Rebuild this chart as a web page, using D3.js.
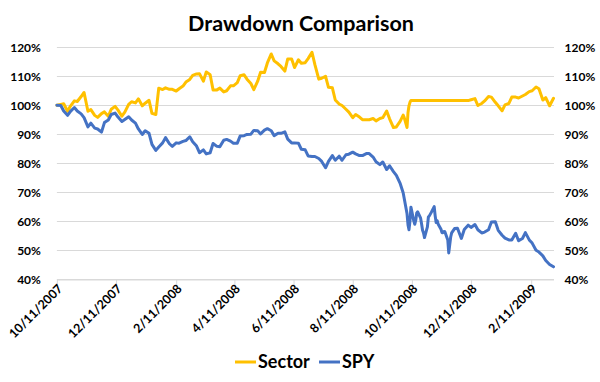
<!DOCTYPE html>
<html><head><meta charset="utf-8">
<script src="https://cdn.jsdelivr.net/npm/d3@7"></script>
<style>body{margin:0;background:#fff}svg text{font-family:Lato,"Open Sans",sans-serif;font-weight:bold;fill:#000}</style>
</head><body><svg id="c" width="600" height="382"></svg>
<script>
const dates = ["2007-10-11","2007-10-15","2007-10-18","2007-10-22","2007-10-25","2007-10-29","2007-11-01","2007-11-05","2007-11-08","2007-11-12","2007-11-15","2007-11-19","2007-11-22","2007-11-26","2007-11-29","2007-12-03","2007-12-06","2007-12-10","2007-12-13","2007-12-17","2007-12-20","2007-12-24","2007-12-27","2007-12-31","2008-01-03","2008-01-07","2008-01-10","2008-01-14","2008-01-17","2008-01-21","2008-01-24","2008-01-28","2008-01-31","2008-02-04","2008-02-07","2008-02-11","2008-02-14","2008-02-18","2008-02-21","2008-02-25","2008-02-28","2008-03-03","2008-03-06","2008-03-10","2008-03-13","2008-03-17","2008-03-20","2008-03-24","2008-03-27","2008-03-31","2008-04-03","2008-04-07","2008-04-10","2008-04-14","2008-04-17","2008-04-21","2008-04-24","2008-04-28","2008-05-01","2008-05-05","2008-05-08","2008-05-12","2008-05-15","2008-05-19","2008-05-22","2008-05-26","2008-05-29","2008-06-02","2008-06-05","2008-06-09","2008-06-12","2008-06-16","2008-06-19","2008-06-23","2008-06-26","2008-06-30","2008-07-03","2008-07-07","2008-07-10","2008-07-14","2008-07-17","2008-07-21","2008-07-24","2008-07-28","2008-07-31","2008-08-04","2008-08-07","2008-08-11","2008-08-14","2008-08-18","2008-08-21","2008-08-25","2008-08-28","2008-09-01","2008-09-04","2008-09-08","2008-09-11","2008-09-15","2008-09-18","2008-09-22","2008-09-25","2008-09-29","2008-10-02","2008-10-03","2008-10-06","2008-10-07","2008-10-08","2008-10-09","2008-10-10","2008-10-13","2008-10-14","2008-10-15","2008-10-16","2008-10-17","2008-10-20","2008-10-21","2008-10-22","2008-10-23","2008-10-24","2008-10-27","2008-10-28","2008-10-29","2008-10-30","2008-10-31","2008-11-03","2008-11-04","2008-11-05","2008-11-06","2008-11-07","2008-11-10","2008-11-11","2008-11-12","2008-11-13","2008-11-14","2008-11-17","2008-11-18","2008-11-19","2008-11-20","2008-11-21","2008-11-24","2008-11-27","2008-12-01","2008-12-04","2008-12-08","2008-12-11","2008-12-15","2008-12-18","2008-12-22","2008-12-25","2008-12-29","2009-01-01","2009-01-05","2009-01-08","2009-01-12","2009-01-15","2009-01-19","2009-01-22","2009-01-26","2009-01-29","2009-02-02","2009-02-05","2009-02-09","2009-02-12","2009-02-16","2009-02-19","2009-02-23","2009-02-26","2009-03-02","2009-03-06"];

const sector = [100,100.3,100.5,97.9,99.7,101.5,101.3,103.0,104.4,97.9,98.5,96.5,95.8,97.1,97.7,96.2,98.6,99.6,98.3,96.2,97.6,100.3,101.2,100.8,102.2,99.8,100.7,101.7,97.2,96.8,105.9,105.4,106.0,105.5,105.5,104.9,105.7,106.6,108.0,108.9,110.3,110.8,110.9,108.3,111.5,110.5,105.3,105.3,105.9,104.6,105.0,106.7,106.7,107.8,110.2,110.5,109.0,107.5,105.4,108.3,111.4,111.3,114.6,117.7,115.3,114.3,113.4,111.8,116.0,116.0,113.0,115.7,114.5,114.7,116.1,118.3,114.0,109.0,109.3,110.0,106.2,106.0,101.8,100.4,99.9,98.6,97.6,95.7,96.8,95.9,95.0,95.0,95.0,95.4,94.6,95.4,95.7,98.0,95.3,92.3,92.5,94.5,96.6,95.8,92.3,97.5,99.8,101.0,101.6,null,null,null,null,null,null,null,null,null,null,null,null,null,null,null,null,null,null,null,null,null,null,null,null,null,null,null,null,null,null,null,null,null,null,101.6,101.9,102.3,99.9,100.6,101.5,103.0,102.8,101.0,99.8,98.1,100.1,100.6,102.8,102.8,102.5,103.2,103.7,104.7,105.0,106.3,105.7,101.8,102.6,99.8,102.4];

const spy = [100,99.9,98.0,96.5,97.9,99.2,98.0,97.0,95.7,92.5,93.8,92.1,91.8,90.7,94.0,94.9,96.8,97.3,95.9,94.4,95.1,96.0,94.9,93.8,91.8,89.9,91.2,90.3,86.5,84.4,85.6,87.0,88.8,86.7,85.8,87.0,86.9,87.5,87.8,89.1,87.4,85.9,83.6,84.6,83.2,83.6,86.8,85.8,85.7,87.9,88.2,87.6,86.9,86.9,89.4,89.5,89.9,90.0,91.3,91.2,90.1,91.4,91.9,91.2,89.5,90.3,90.3,90.8,88.3,87.0,87.0,86.9,84.8,84.6,82.5,82.3,82.3,81.6,80.6,78.4,80.6,82.6,81.0,82.4,81.0,82.9,83.1,83.8,83.2,82.6,82.6,83.3,83.3,82.1,80.5,79.5,80.4,77.8,79.1,77.1,75.8,72.9,69.8,68.0,62.5,58.7,57.0,59.9,64.8,60.0,58.9,60.3,62.8,63.2,61.0,59.0,56.8,55.9,54.3,58.0,61.4,61.8,62.4,63.0,65.0,61.8,59.5,60.2,59.0,57.2,56.0,56.0,56.4,56.3,53.5,49.0,51.8,54.5,55.9,57.4,57.5,54.0,57.1,58.6,57.8,58.8,57.0,55.9,56.2,57.0,59.7,59.8,56.8,55.1,54.1,53.5,53.5,55.8,53.2,54.0,56.0,53.5,52.4,49.9,49.3,48.0,46.4,45.0,44.2];

const yTicks = [40,50,60,70,80,90,100,110,120];
const xTickLabels = ["10/11/2007","12/11/2007","2/11/2008","4/11/2008","6/11/2008","8/11/2008","10/11/2008","12/11/2008","2/11/2009"];
const domainEnd = "2009-03-06";
const seriesNames = ["Sector","SPY"];
const seriesColors = ["#FFC000","#4472C4"];
const titleText = "Drawdown Comparison";

const svg = d3.select("#c");
const parseISO = d3.timeParse("%Y-%m-%d");
const parseTick = d3.timeParse("%m/%d/%Y");
const fmtTick = d3.timeFormat("%-m/%-d/%Y");

const pLeft = 56.9, pRight = 553.5, pTop = 47.3, pBottom = 279;
const x = d3.scaleTime().domain([parseISO(dates[0]), parseISO(domainEnd)]).range([pLeft, pRight]);
const y = d3.scaleLinear().domain([40,120]).range([pBottom, pTop]);

// gridlines
svg.append("g").selectAll("line").data(yTicks).join("line")
  .attr("x1", pLeft).attr("x2", pRight + 0.5)
  .attr("y1", d => Math.round(y(d)) + 0.5).attr("y2", d => Math.round(y(d)) + 0.5)
  .attr("stroke", "#D9D9D9").attr("stroke-width", 1);

// left axis
const yl = svg.append("g").attr("transform", `translate(${pLeft - 13},0)`)
  .call(d3.axisLeft(y).tickValues(yTicks).tickFormat(d => d + "%").tickSize(0));
yl.select(".domain").remove();
yl.selectAll("text").attr("font-size", 12).style("font-family","Lato").style("font-weight","bold").attr("dy","0.36em");

// right axis
const yr = svg.append("g").attr("transform", `translate(${pRight + 11},0)`)
  .call(d3.axisRight(y).tickValues(yTicks).tickFormat(d => d + "%").tickSize(0));
yr.select(".domain").remove();
yr.selectAll("text").attr("font-size", 12).attr("x", 0).style("font-family","Lato").style("font-weight","bold").attr("dy","0.36em");

// x axis
const tickDates = xTickLabels.map(parseTick);
const xa = svg.append("g").attr("transform", `translate(0,${Math.round(pBottom)+0.5})`)
  .call(d3.axisBottom(x).tickValues(tickDates).tickFormat(fmtTick).tickSize(6).tickSizeOuter(0));
xa.select(".domain").attr("stroke", "#D9D9D9");
xa.selectAll(".tick line").attr("stroke", "#D9D9D9");
xa.selectAll("text")
  .attr("font-size", 12.5).style("font-family","Lato").style("font-weight","bold")
  .attr("text-anchor", "end")
  .attr("y", 0).attr("dy", 0)
  .attr("transform", "translate(6,10) rotate(-45)");

// lines
const series = [sector, spy];
series.forEach((vals, i) => {
  const pts = dates.map((d, j) => ({d: parseISO(d), v: vals[j]})).filter(p => p.v !== null);
  svg.append("path").datum(pts)
    .attr("fill", "none").attr("stroke", seriesColors[i]).attr("stroke-width", 3)
    .attr("stroke-linejoin", "round").attr("stroke-linecap", "round")
    .attr("d", d3.line().x(p => x(p.d)).y(p => y(p.v)));
});

// title
svg.append("text").attr("x", 301).attr("y", 30.5).attr("text-anchor", "middle")
  .attr("font-size", 21.5).text(titleText);

// legend
const lg = svg.append("g");
const legendPos = [235, 319];
seriesNames.forEach((n, i) => {
  lg.append("line").attr("x1", legendPos[i]).attr("x2", legendPos[i] + 21)
    .attr("y1", 362).attr("y2", 362).attr("stroke", seriesColors[i]).attr("stroke-width", 3);
  lg.append("text").attr("x", legendPos[i] + 23).attr("y", 362).attr("dy", "0.35em")
    .attr("font-size", 18).text(n);
});
</script></body></html>
